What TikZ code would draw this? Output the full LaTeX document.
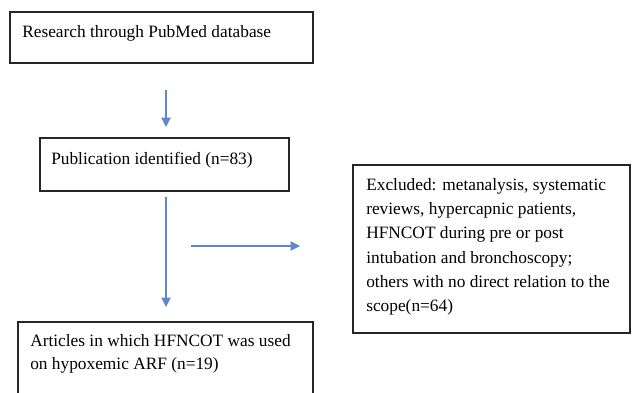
\documentclass[tikz,border=0pt]{standalone}
\usepackage{fontspec}
\setmainfont{Liberation Serif}
\usetikzlibrary{arrows.meta,fit}
\definecolor{arrowblue}{HTML}{4472C4}
\begin{document}
\begin{tikzpicture}[x=0.75pt,y=-0.75pt,
  boxframe/.style={draw=black!85, line width=1.1pt, inner sep=0pt, fill=none},
  txt/.style={inner sep=0pt, font=\fontsize{13}{18.2}\selectfont, align=left},
  flow/.style={draw=arrowblue!85, line width=0.8pt, -{Triangle[width=7pt,length=7pt]}}]
\useasboundingbox (0,0) rectangle (636,393);
\clip (0,0) rectangle (636,393);
\fill[white] (0,0) rectangle (636,393);
% boxes
\node[boxframe, fit={(10,12) (313,63)}] (b1) {};
\node[boxframe, fit={(40,138) (289,191)}] (b2) {};
\node[boxframe, fit={(353,165) (630,333)}] (b3) {};
\node[boxframe, fit={(18,322) (313,420)}] (b4) {};
% texts
\node[txt, anchor=base west] (t1) at (22,37) {Research through PubMed database};
\node[txt, anchor=base west] (t2) at (51,164) {Publication identified (n=83)};
\node[txt, anchor=north west] (t3) at (366,178) {Excluded: metanalysis, systematic\\reviews, hypercapnic patients,\\HFNCOT during pre or post\\intubation and bronchoscopy;\\others with no direct relation to the\\scope(n=64)};
\node[txt, anchor=north west, font=\fontsize{13}{17.4}\selectfont] (t4) at (30,334) {Articles in which HFNCOT was used\\on hypoxemic ARF (n=19)};
% arrow endpoints
\coordinate (a1s) at (166,90);
\coordinate (a1e) at (166,127);
\coordinate (a2s) at (166,197);
\coordinate (a2e) at (166,307);
\coordinate (a3s) at (191,246);
\coordinate (a3e) at (300,246);
\draw[flow] (a1s) -- (a1e);
\draw[flow] (a2s) -- (a2e);
\draw[flow] (a3s) -- (a3e);
\end{tikzpicture}
\end{document}
